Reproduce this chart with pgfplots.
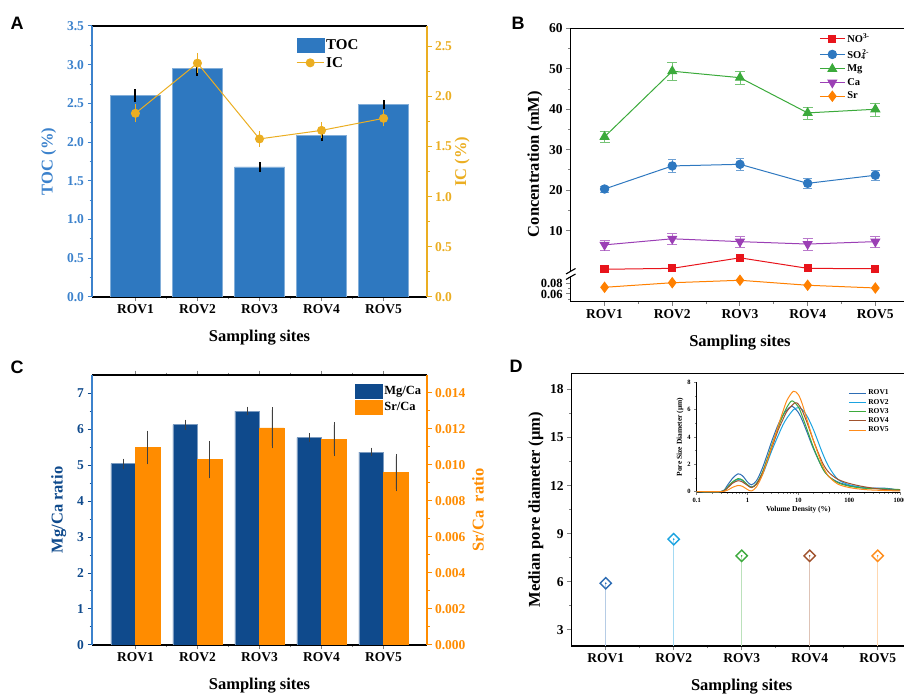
\documentclass[border=0pt]{standalone}
\usepackage{fontspec}
\setmainfont{Liberation Serif}
\setsansfont{Liberation Sans}
\usepackage{pgfplots}
\pgfplotsset{compat=1.18}
\definecolor{tocblue}{HTML}{2E78C0}
\definecolor{tocaxis}{HTML}{3C82CC}
\definecolor{icgold}{HTML}{EBAE22}
\definecolor{mgblue}{HTML}{0F4A8C}
\definecolor{srorange}{HTML}{FF8C00}
\definecolor{noRed}{HTML}{E8141B}
\definecolor{soBlue}{HTML}{2E78C0}
\definecolor{mgGreen}{HTML}{3BAA3B}
\definecolor{caPurple}{HTML}{9B3FB5}
\definecolor{srOr}{HTML}{FF8000}
\definecolor{d1}{HTML}{2E6DB4}
\definecolor{d2}{HTML}{1BA3E0}
\definecolor{d3}{HTML}{3DAA3D}
\definecolor{d4}{HTML}{A0522D}
\definecolor{d5}{HTML}{FF8C1A}
\newcommand\fs[1]{\fontsize{#1}{#1}\selectfont\bfseries}

\pgfplotsset{
  base/.style={scale only axis, anchor=south west, tick align=outside,
    /pgf/number format/assume math mode=true,
    tick label style={font=\fs{13.5}},
    label style={font=\fs{16.5}},
    xlabel style={yshift=-9pt},
    major tick length=4.5pt, minor tick length=2.5pt,
    tick style={line width=1pt},
    axis line style={line width=1.3pt},
  },
  rovx/.style={xtick={1,2,3,4,5}, xticklabels={ROV1,ROV2,ROV3,ROV4,ROV5}, minor x tick num=1},
  barlegend/.style={legend image code/.code={\fill[#1] (0pt,-7pt) rectangle (27pt,7pt);}},
  linelegend/.style={legend image code/.code={\draw[mark repeat=2,mark phase=2,#1] plot coordinates {(0pt,0pt) (12.5pt,0pt) (25pt,0pt)};}},
}

\begin{document}
\begin{tikzpicture}[font=\bfseries]
\path (0,0) rectangle (904pt,695pt);

% ================= Panel A =================
\begin{axis}[base, rovx, at={(92pt,398pt)}, width=335pt, height=271pt,
  xmin=0.3, xmax=5.7, ymin=0, ymax=3.5,
  axis y line*=left, xtick pos=left,
  ytick={0,0.5,1,1.5,2,2.5,3,3.5}, minor y tick num=1,
  yticklabel style={text=tocaxis, /pgf/number format/.cd, fixed, fixed zerofill, precision=1},
  y axis line style={draw=tocaxis}, ytick style={draw=tocaxis},
  ylabel={TOC (\%)}, ylabel style={text=tocaxis, yshift=4pt},
  xlabel={Sampling sites}]
\addplot[ybar, bar width=50pt, fill=tocblue, draw=tocblue!60!white, line width=0.5pt,
  error bars/.cd, y dir=both, y explicit, error bar style={black, line width=2pt}, error mark=none]
  coordinates {(1,2.60) +- (0,0.08) (2,2.95) +- (0,0.09) (3,1.68) +- (0,0.065) (4,2.09) +- (0,0.07) (5,2.49) +- (0,0.06)};
\end{axis}
\begin{axis}[base, at={(92pt,398pt)}, width=335pt, height=271pt,
  xmin=0.3, xmax=5.7, ymin=0, ymax=2.7,
  axis y line*=right, axis x line=none,
  ytick={0,0.5,1,1.5,2,2.5}, minor y tick num=1,
  yticklabel style={text=icgold, /pgf/number format/.cd, fixed, fixed zerofill, precision=1},
  y axis line style={draw=icgold}, ytick style={draw=icgold},
  ylabel={IC (\%)}, ylabel style={text=icgold, yshift=4pt},
  legend style={at={(0.6,0.965)}, anchor=north west, draw=none, fill=none, font=\fs{15}, row sep=2pt,
    /tikz/every even column/.append style={column sep=5pt}},
  legend cell align=left]
\addlegendimage{barlegend, tocblue}
\addlegendentry{TOC}
\addplot[icgold, line width=1pt, mark=*, mark size=4pt,
  legend image code/.code={\draw[icgold, line width=1pt] (0pt,0pt) -- (27pt,0pt); \fill[icgold] (13.5pt,0pt) circle (4pt);},
  error bars/.cd, y dir=both, y explicit, error bar style={icgold, line width=1pt}, error mark options={mark size=2pt, icgold}]
  coordinates {(1,1.83) +- (0,0.07) (2,2.33) +- (0,0.08) (3,1.575) +- (0,0.06) (4,1.66) +- (0,0.06) (5,1.78) +- (0,0.06)};
\addlegendentry{IC}
\end{axis}

% ================= Panel B =================
\begin{axis}[base, at={(570.7pt,423pt)}, width=338.5pt, height=243.7pt,
  xmin=0.5, xmax=5.5, ymin=-0.2, ymax=60,
  axis y line*=left, axis x line*=top, xtick=\empty, clip=false,
  ytick={10,20,30,40,50,60}, minor y tick num=1,
  ylabel={Concentration (mM)}, ylabel style={at={(ticklabel cs:0.443)}},
  linelegend,
  legend style={at={(0.725,0.995)}, anchor=north west, draw=none, fill=none, font=\fs{10.5}, row sep=1.2pt},
  legend cell align=left]
\addplot[noRed, line width=1pt, mark=square*, mark size=3.6pt,
  error bars/.cd, y dir=both, y explicit, error bar style={noRed!70, line width=0.6pt}]
  coordinates {(1,0.47) +- (0,0.1) (2,0.7) +- (0,0.1) (3,3.3) +- (0,0.4) (4,0.7) +- (0,0.1) (5,0.6) +- (0,0.1)};
\addlegendentry{NO\textsuperscript{3-}}
\addplot[soBlue, line width=1pt, mark=*, mark size=4.2pt,
  error bars/.cd, y dir=both, y explicit, error bar style={soBlue!70, line width=0.6pt}]
  coordinates {(1,20.3) +- (0,0.8) (2,26.0) +- (0,1.6) (3,26.4) +- (0,1.4) (4,21.7) +- (0,1.2) (5,23.7) +- (0,1.3)};
\addlegendentry{SO\textsubscript{4}\kern-0.3em\textsuperscript{2-}}
\addplot[mgGreen, line width=1pt, mark=triangle*, mark size=5pt,
  error bars/.cd, y dir=both, y explicit, error bar style={mgGreen!70, line width=0.6pt}]
  coordinates {(1,33.2) +- (0,1.3) (2,49.4) +- (0,2.2) (3,47.8) +- (0,1.7) (4,39.1) +- (0,1.5) (5,40.0) +- (0,1.6)};
\addlegendentry{Mg}
\addplot[caPurple, line width=1pt, mark=triangle*, mark size=5pt, mark options={rotate=180},
  error bars/.cd, y dir=both, y explicit, error bar style={caPurple!70, line width=0.6pt}]
  coordinates {(1,6.5) +- (0,1.2) (2,8.0) +- (0,1.4) (3,7.3) +- (0,1.4) (4,6.7) +- (0,1.4) (5,7.3) +- (0,1.4)};
\addlegendentry{Ca}
\addlegendimage{srOr, line width=1pt, mark=diamond*, mark size=5pt}
\addlegendentry{Sr}
\end{axis}
\begin{axis}[base, rovx, at={(570.7pt,393.3pt)}, width=338.5pt, height=25.7pt,
  xmin=0.5, xmax=5.5, ymin=0.0456, ymax=0.0936,
  axis y line*=left, axis x line*=bottom, clip=false,
  ytick={0.06,0.08}, minor ytick={0.05,0.07,0.09},
  yticklabel style={font=\fs{12.5}, /pgf/number format/.cd, fixed, fixed zerofill, precision=2},
  scaled y ticks=false,
  xlabel={Sampling sites}]
\addplot[srOr, line width=1pt, mark=diamond*, mark size=5pt]
  coordinates {(1,0.0725) (2,0.081) (3,0.0856) (4,0.0763) (5,0.0712)};
\end{axis}
\fill[white] (565pt,419.3pt) rectangle (577pt,422.7pt);
\draw[line width=1.1pt] (566pt,415.5pt) -- (575.5pt,421pt);
\draw[line width=1.1pt] (566pt,421pt) -- (575.5pt,426.5pt);

% ================= Panel C =================
\begin{axis}[base, rovx, at={(92pt,50pt)}, width=335pt, height=270pt,
  xmin=0.3, xmax=5.7, ymin=0, ymax=7.5,
  axis y line*=left, xtick pos=both,
  ytick={0,1,2,3,4,5,6,7}, minor y tick num=1,
  yticklabel style={text=mgblue},
  y axis line style={draw=tocaxis}, ytick style={draw=mgblue},
  ylabel={Mg/Ca ratio}, ylabel style={text=mgblue, yshift=4pt},
  xlabel={Sampling sites}]
\addplot[ybar, bar width=24.5pt, fill=mgblue, draw=mgblue!55!white, line width=0.5pt,
  error bars/.cd, y dir=both, y explicit, error bar style={black!75, line width=0.8pt}, error mark options={mark size=2.5pt, black!75, line width=0.8pt}]
  coordinates {(0.8,5.04) +- (0,0.07) (1.8,6.12) +- (0,0.07) (2.8,6.50) +- (0,0.05) (3.8,5.76) +- (0,0.05) (4.8,5.36) +- (0,0.05)};
\end{axis}
\begin{axis}[base, at={(92pt,50pt)}, width=335pt, height=270pt,
  xmin=0.3, xmax=5.7, ymin=0, ymax=0.015,
  axis y line*=right, axis x line=none,
  ytick={0,0.002,0.004,0.006,0.008,0.010,0.012,0.014}, minor y tick num=1,
  scaled y ticks=false,
  yticklabel style={text=srorange, /pgf/number format/.cd, fixed, fixed zerofill, precision=3},
  y axis line style={draw=srorange}, ytick style={draw=srorange},
  ylabel={Sr/Ca\ \ ratio}, ylabel style={text=srorange},
  legend style={at={(0.775,0.975)}, anchor=north west, draw=none, fill=none, font=\fs{12.5}, row sep=2pt,
    /tikz/every even column/.append style={column sep=4pt}},
  legend cell align=left]
\addlegendimage{barlegend, mgblue}
\addlegendentry{Mg/Ca}
\addplot[ybar, bar width=24.5pt, fill=srorange, draw=srorange, line width=0.5pt,
  legend image code/.code={\fill[srorange] (0pt,-7pt) rectangle (27pt,7pt);},
  error bars/.cd, y dir=both, y explicit, error bar style={black!75, line width=0.8pt}, error mark options={mark size=2.5pt, black!75, line width=0.8pt}]
  coordinates {(1.2,0.01097) +- (0,0.0008) (2.2,0.0103) +- (0,0.0009) (3.2,0.01206) +- (0,0.001) (4.2,0.01143) +- (0,0.0008) (5.2,0.00958) +- (0,0.0009)};
\addlegendentry{Sr/Ca}
\end{axis}

% ================= Panel D =================
\begin{axis}[base, rovx, at={(571.7pt,49pt)}, width=340pt, height=272.7pt,
  xmin=0.5, xmax=5.5, ymin=2, ymax=19, xtick pos=left, ytick pos=left,
  ytick={3,6,9,12,15,18}, minor y tick num=1,
  ylabel={Median pore diameter (µm)}, xlabel={Sampling sites}]
\addplot[ycomb, d1!35, line width=0.9pt, mark=square, mark size=4pt, mark options={rotate=45, draw=d1, line width=1.4pt}] coordinates {(1,5.91)};
\addplot[ycomb, d2!40, line width=0.9pt, mark=square, mark size=4pt, mark options={rotate=45, draw=d2, line width=1.4pt}] coordinates {(2,8.66)};
\addplot[ycomb, d3!35, line width=0.9pt, mark=square, mark size=4pt, mark options={rotate=45, draw=d3, line width=1.4pt}] coordinates {(3,7.62)};
\addplot[ycomb, d4!35, line width=0.9pt, mark=square, mark size=4pt, mark options={rotate=45, draw=d4, line width=1.4pt}] coordinates {(4,7.62)};
\addplot[ycomb, d5!35, line width=0.9pt, mark=square, mark size=4pt, mark options={rotate=45, draw=d5, line width=1.4pt}] coordinates {(5,7.62)};
\addplot[only marks, mark=*, mark size=0.6pt, d1] coordinates {(1,5.91)};
\addplot[only marks, mark=*, mark size=0.6pt, d2] coordinates {(2,8.66)};
\addplot[only marks, mark=*, mark size=0.6pt, d3] coordinates {(3,7.62)};
\addplot[only marks, mark=*, mark size=0.6pt, d4] coordinates {(4,7.62)};
\addplot[only marks, mark=*, mark size=0.6pt, d5] coordinates {(5,7.62)};
\end{axis}
\begin{axis}[scale only axis, anchor=south west, at={(696.7pt,202.7pt)}, width=203.3pt, height=110.6pt,
  xmode=log, xmin=0.1, xmax=1000, ymin=-0.05, ymax=8.05,
  axis lines*=left, tick align=outside,
  /pgf/number format/assume math mode=true,
  xtick={0.1,1,10,100,1000}, xticklabels={0.1,1,10,100,1000}, minor xtick={},
  ytick={0,2,4,6,8}, minor y tick num=1,
  tick label style={font=\fs{6.5}}, label style={font=\fs{7.5}},
  xlabel={Volume Density (\%)}, ylabel={Pore Size Diameter (µm)},
  xlabel style={yshift=3pt}, ylabel style={yshift=-3pt},
  axis line style={line width=0.8pt}, tick style={line width=0.6pt},
  major tick length=2.5pt, minor tick length=1.5pt,
  legend image code/.code={\draw[#1] (0pt,0pt) -- (17pt,0pt);},
  legend style={at={(0.73,0.965)}, anchor=north west, draw=none, fill=none, font=\fs{7.5}, row sep=-1.2pt},
  legend cell align=left]
\addplot[d1, line width=1pt, smooth] coordinates {(0.1,0) (0.3,0) (0.4,0.45) (0.5,0.95) (0.65,1.3) (0.8,1.15) (1.0,0.7) (1.2,0.5) (1.5,0.8) (2,1.8) (3,3.7) (4,4.9) (5,5.6) (6,6.0) (7.5,6.25) (10,5.8) (12,5.2) (15,4.3) (20,3.1) (30,1.7) (40,1.1) (60,0.7) (100,0.45) (200,0.25) (500,0.25) (1000,0.1)};
\addlegendentry{ROV1}
\addplot[d2, line width=1pt, smooth] coordinates {(0.1,0) (0.3,0) (0.4,0.3) (0.5,0.65) (0.65,0.9) (0.8,0.8) (1.0,0.5) (1.2,0.35) (1.5,0.55) (2,1.3) (3,3.0) (4,4.1) (5,4.9) (6,5.4) (8,6.0) (10,6.15) (12,6.0) (15,5.5) (20,4.5) (30,2.8) (40,1.8) (60,0.9) (100,0.5) (200,0.3) (500,0.2) (1000,0.1)};
\addlegendentry{ROV2}
\addplot[d3, line width=1pt, smooth] coordinates {(0.1,0) (0.3,0) (0.4,0.3) (0.5,0.7) (0.65,0.95) (0.8,0.85) (1.0,0.5) (1.2,0.3) (1.5,0.6) (2,1.5) (3,3.4) (4,4.7) (5,5.6) (6,6.2) (7.5,6.65) (10,6.2) (12,5.5) (15,4.5) (20,3.2) (30,1.7) (40,1.1) (60,0.65) (100,0.4) (200,0.25) (500,0.2) (1000,0.15)};
\addlegendentry{ROV3}
\addplot[d4, line width=1pt, smooth] coordinates {(0.1,0) (0.3,0) (0.4,0.25) (0.5,0.6) (0.65,0.8) (0.8,0.7) (1.0,0.45) (1.2,0.3) (1.5,0.55) (2,1.4) (3,3.2) (4,4.5) (5,5.3) (6,5.9) (8.5,6.5) (10,6.4) (12,5.9) (15,5.0) (20,3.7) (30,2.1) (40,1.4) (60,0.9) (100,0.6) (200,0.35) (500,0.15) (1000,0.1)};
\addlegendentry{ROV4}
\addplot[d5, line width=1pt, smooth] coordinates {(0.1,0) (0.3,0) (0.4,0.1) (0.5,0.3) (0.65,0.45) (0.8,0.38) (1.0,0.15) (1.2,0.05) (1.5,0.35) (2,1.3) (3,3.3) (4,4.8) (5,5.9) (6,6.7) (8,7.35) (10,7.1) (12,6.4) (15,5.2) (20,3.7) (30,1.9) (40,1.1) (60,0.55) (100,0.3) (200,0.15) (500,0.08) (1000,0.05)};
\addlegendentry{ROV5}
\end{axis}

% panel letters
\node[font=\sffamily\bfseries\fontsize{18}{18}\selectfont] at (17pt,672pt) {A};
\node[font=\sffamily\bfseries\fontsize{18}{18}\selectfont] at (518pt,672pt) {B};
\node[font=\sffamily\bfseries\fontsize{18}{18}\selectfont] at (17pt,328pt) {C};
\node[font=\sffamily\bfseries\fontsize{18}{18}\selectfont] at (516pt,329pt) {D};

\pgfresetboundingbox
\useasboundingbox (0,0) rectangle (904pt,695pt);
\end{tikzpicture}
\end{document}
